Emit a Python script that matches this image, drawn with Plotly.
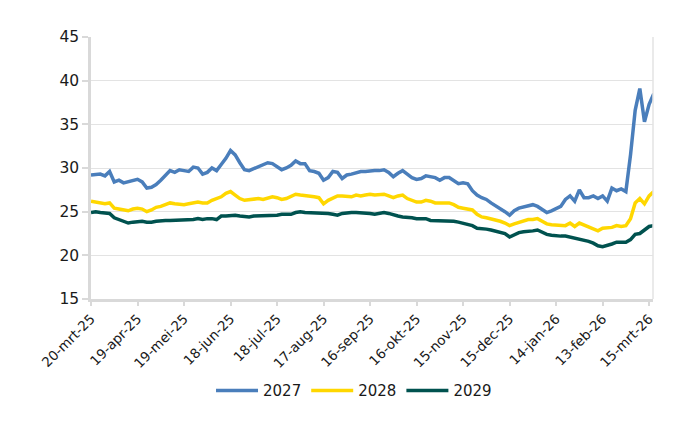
import pandas as pd
import plotly.graph_objects as go

# 3-day sampled dates, 20-mrt-2025 .. 18-mrt-2026
dates = pd.date_range("2025-03-20", periods=122, freq="3D")

s2027 = [29.2, 29.3, 29.3, 29.1, 29.6, 28.4, 28.6, 28.3, 28.4, 28.5,
         28.7, 28.4, 27.7, 27.8, 28.1, 28.6, 29.2, 29.7, 29.5, 29.8,
         29.7, 29.6, 30.1, 30.0, 29.3, 29.5, 30.0, 29.7, 30.4, 31.1,
         32.0, 31.5, 30.6, 29.8, 29.7, 29.9, 30.1, 30.4, 30.6, 30.5,
         30.1, 29.8, 30.0, 30.3, 30.8, 30.5, 30.5, 29.7, 29.6, 29.4,
         28.6, 28.9, 29.6, 29.5, 28.8, 29.2, 29.3, 29.5, 29.6, 29.6,
         29.7, 29.7, 29.7, 29.8, 29.5, 29.0, 29.4, 29.7, 29.3, 28.9,
         28.7, 28.8, 29.1, 29.0, 28.9, 28.6, 28.9, 28.9, 28.5, 28.2,
         28.3, 28.2, 27.4, 26.9, 26.6, 26.4, 26.0, 25.7, 25.4, 25.0,
         24.6, 25.1, 25.4, 25.5, 25.7, 25.8, 25.6, 25.3, 24.9, 25.1,
         25.4, 25.6, 26.4, 26.8, 26.2, 27.5, 26.6, 26.6, 26.8, 26.5,
         26.8, 26.2, 27.7, 27.4, 27.6, 27.3, 31.5, 36.6, 39.1, 35.3,
         37.3, 38.5]

s2028 = [26.2, 26.1, 26.0, 25.9, 26.0, 25.4, 25.3, 25.2, 25.1, 25.3,
         25.4, 25.3, 25.0, 25.2, 25.5, 25.6, 25.8, 26.0, 25.9, 25.8,
         25.8, 25.9, 26.0, 26.1, 26.0, 26.0, 26.3, 26.5, 26.7, 27.1,
         27.3, 26.9, 26.5, 26.3, 26.4, 26.5, 26.5, 26.4, 26.6, 26.7,
         26.6, 26.4, 26.5, 26.8, 27.0, 26.9, 26.8, 26.8, 26.7, 26.6,
         25.9, 26.3, 26.5, 26.8, 26.8, 26.7, 26.7, 26.9, 26.8, 26.9,
         27.0, 26.9, 26.9, 27.0, 26.8, 26.6, 26.8, 26.9, 26.5, 26.3,
         26.1, 26.1, 26.3, 26.2, 26.0, 26.0, 26.0, 26.0, 25.8, 25.5,
         25.4, 25.3, 25.2, 24.7, 24.4, 24.3, 24.2, 24.0, 23.9, 23.7,
         23.4, 23.6, 23.8, 24.0, 24.1, 24.1, 24.2, 23.9, 23.6, 23.5,
         23.5, 23.4, 23.4, 23.7, 23.3, 23.7, 23.5, 23.3, 23.1, 22.8,
         23.1, 23.1, 23.2, 23.4, 23.3, 23.4, 24.2, 26.0, 26.5, 25.9,
         26.8, 27.3]

s2029 = [24.9, 25.0, 24.9, 24.8, 24.8, 24.3, 24.1, 23.9, 23.7, 23.8,
         23.9, 23.9, 23.8, 23.8, 23.9, 24.0, 24.0, 24.0, 24.0, 24.0,
         24.1, 24.0, 24.1, 24.2, 24.1, 24.2, 24.2, 24.1, 24.5, 24.5,
         24.6, 24.6, 24.5, 24.4, 24.4, 24.5, 24.5, 24.6, 24.6, 24.6,
         24.6, 24.7, 24.7, 24.7, 24.9, 25.0, 24.9, 24.9, 24.9, 24.9,
         24.8, 24.8, 24.7, 24.6, 24.8, 24.9, 24.9, 24.9, 24.9, 24.8,
         24.8, 24.7, 24.8, 24.9, 24.8, 24.6, 24.5, 24.4, 24.4, 24.3,
         24.2, 24.2, 24.2, 24.0, 24.0, 24.0, 24.0, 23.9, 23.9, 23.8,
         23.7, 23.6, 23.4, 23.1, 23.1, 23.0, 22.9, 22.8, 22.7, 22.5,
         22.1, 22.4, 22.6, 22.7, 22.7, 22.8, 22.9, 22.6, 22.4, 22.3,
         22.2, 22.2, 22.2, 22.1, 22.0, 21.9, 21.8, 21.6, 21.4, 21.1,
         21.0, 21.1, 21.3, 21.5, 21.5, 21.5, 21.8, 22.4, 22.5, 22.9,
         23.3, 23.4]

series_names = ["2027", "2028", "2029"]
series_colors = ["#4A7EBB", "#FFD700", "#00524F"]

tick_dates = pd.date_range("2025-03-20", periods=13, freq="30D")
tick_labels = ["20-mrt-25", "19-apr-25", "19-mei-25", "18-jun-25", "18-jul-25",
               "17-aug-25", "16-sep-25", "16-okt-25", "15-nov-25", "15-dec-25",
               "14-jan-26", "13-feb-26", "15-mrt-26"]

y_ticks = [15, 20, 25, 30, 35, 40, 45]

fig = go.Figure()
for name, vals, col in zip(series_names, [s2027, s2028, s2029], series_colors):
    fig.add_trace(go.Scatter(x=dates, y=vals, mode="lines", name=name,
                             line=dict(color=col, width=3.5)))

font_family = "DejaVu Sans, Verdana, sans-serif"
fig.update_layout(
    width=700, height=430,
    margin=dict(l=83, r=55, t=29, b=139),
    paper_bgcolor="white", plot_bgcolor="white",
    font=dict(family=font_family, size=14, color="#1a1a1a"),
    showlegend=True,
    legend=dict(orientation="h", x=0.468, xanchor="center", y=-0.35, yanchor="middle",
                font=dict(size=15), itemwidth=42, tracegroupgap=0),
)
fig.update_xaxes(
    type="date",
    range=["2025-03-20", "2026-03-17 12:00"],
    tickvals=list(tick_dates), ticktext=tick_labels, tickangle=-45,
    showgrid=False, showline=True, linecolor="#D9D9D9", linewidth=2.5,
    ticks="outside", ticklen=4, tickcolor="#D9D9D9", tickwidth=2,
    mirror=False, zeroline=False, automargin=False,
    tickfont=dict(size=13.5),
)
fig.update_yaxes(
    range=[15, 45], tickvals=y_ticks,
    showgrid=True, gridcolor="#E3E3E3", gridwidth=1,
    showline=True, linecolor="#D9D9D9", linewidth=2.5,
    ticks="outside", ticklen=6, tickcolor="#D9D9D9", tickwidth=2,
    zeroline=False, automargin=False, tickfont=dict(size=15.5),
)
# right-hand frame line like the reference
fig.add_shape(type="line", xref="paper", yref="paper", x0=1, x1=1, y0=0, y1=1,
              line=dict(color="#E3E3E3", width=1.5))

fig.write_html("out.html")
